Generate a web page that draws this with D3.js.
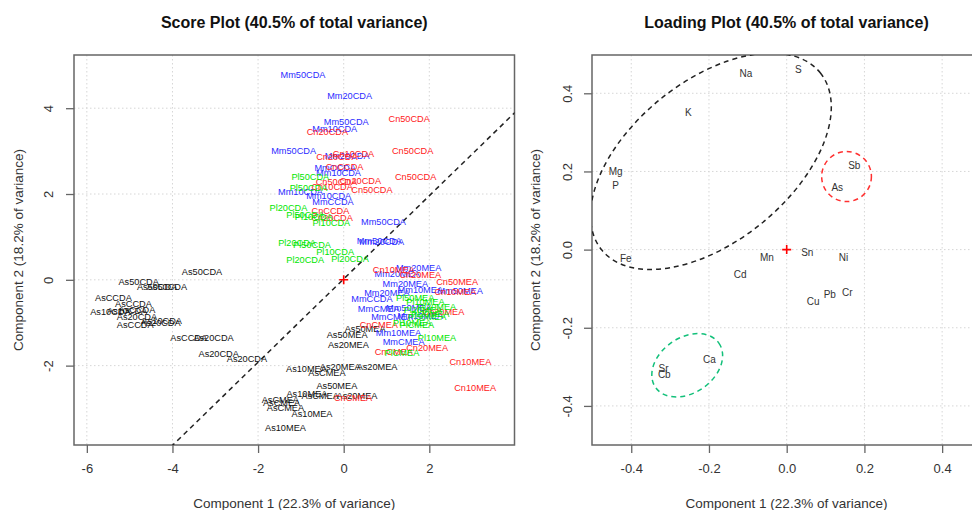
<!DOCTYPE html>
<html>
<head>
<meta charset="utf-8">
<script src="https://cdn.jsdelivr.net/npm/d3@7"></script>
<style>
  body { margin: 0; background: #fff; }
  svg { font-family: "Liberation Sans", Arial, sans-serif; }
  .grid line { stroke: #d6d6d6; stroke-dasharray: 1.5,2.5; }
  .tick-lbl { font-size: 13px; fill: #333; }
  .ax-title { font-size: 13.5px; fill: #333; }
  .main-title { font-size: 16px; font-weight: bold; fill: #111; }
</style>
</head>
<body>
<svg id="chart" width="972" height="510"></svg>
<script>
// Score plot: sample labels and coordinates (component 1, component 2)
const scoreLabels = [
  'As50CDA','As50CDA','As50CDA','As50CDA','AsCCDA','AsCCDA','As10CDA','As10CDA','AsCCDA','As20CDA',
  'As10CDA','AsCCDA','As20CDA','AsCCDA','As20CDA','As20CDA','As20CDA',
  'As50MEA','As50MEA','As20MEA','As10MEA','As20MEA','As20MEA','AsCMEA','As50MEA','As10MEA',
  'AsCMEA','As20MEA','AsCMEA','AsCMEA','AsCMEA','As10MEA','As10MEA',
  'Mm50CDA','Mm20CDA','Mm50CDA','Mm10CDA','Mm50CDA','Mm20CDA','MmCCDA','Mm10CDA','Mm10CDA','Mm10CDA',
  'MmCCDA','Mm50CDA','Mm20CDA','Mm50CDA',
  'Mm20MEA','Mm20MEA','Mm20MEA','Mm50MEA','Mm20MEA','Mm10MEA','MmCCDA','MmCMEA','Mm50MEA','Mm10MEA',
  'MmCMEA','Mm10MEA','MmCMEA',
  'Cn50CDA','Cn20CDA','Cn20CDA','Cn10CDA','Cn50CDA','CnCCDA','Cn50CDA','Cn20CDA','Cn50CDA','Cn10CDA',
  'Cn50CDA','CnCCDA','Cn20CDA',
  'Cn10MEA','Cn20MEA','Cn50MEA','Cn10MEA','Cn20MEA','CnCMEA','Cn20MEA','CnCMEA','Cn10MEA','Cn10MEA','CnCMEA',
  'Pl50CDA','Pl50CDA','Pl20CDA','Pl50CDA','Pl10CDA','Pl10CDA','Pl20CDA','Pl50CDA','Pl10CDA','Pl20CDA','Pl20CDA',
  'Pl50MEA','Pl10MEA','Pl20MEA','Pl50MEA','Pl20MEA','PlCMEA','Pl10MEA','PlCMEA','Pl10MEA','Pl20MEA'
];
const scoreX = [
  -3.31,-4.79,-4.36,-4.13,-5.38,-4.91,-5.45,-5.06,-4.83,-4.83,
  -4.25,-4.87,-4.28,-3.62,-3.04,-2.92,-2.26,
  0.50,0.08,0.11,-0.87,-0.08,0.78,-0.39,-0.16,-0.86,
  -0.55,0.31,-1.48,-1.45,-1.36,-0.74,-1.36,
  -0.95,0.14,0.06,-0.21,-1.17,0.08,-0.20,-0.12,-1.01,-0.35,
  -0.25,0.93,0.89,0.83,
  1.75,1.25,1.44,2.72,1.01,1.79,0.66,0.82,1.52,1.79,
  1.13,1.28,1.40,
  1.53,-0.38,-0.16,0.23,1.61,0.02,-0.17,0.39,1.68,-0.27,
  0.66,-0.31,-0.27,
  1.17,1.79,2.65,2.61,2.33,0.82,1.95,1.17,2.96,3.07,0.22,
  -0.78,-0.82,-1.29,-0.90,-0.70,-0.29,-1.09,-0.74,-0.20,-0.90,0.15,
  1.67,1.91,2.18,1.95,2.02,1.71,2.18,1.36,1.60,1.85
];
const scoreY = [
  0.18,-0.04,-0.16,-0.16,-0.41,-0.56,-0.74,-0.72,-0.70,-0.87,
  -0.95,-1.05,-0.99,-1.34,-1.36,-1.73,-1.85,
  -1.15,-1.28,-1.52,-2.07,-2.02,-2.02,-2.16,-2.46,-2.66,
  -2.70,-2.70,-2.80,-2.86,-2.98,-3.13,-3.46,
  4.79,4.30,3.68,3.53,3.01,2.90,2.61,2.50,2.06,1.97,
  1.83,1.36,0.89,0.91,
  0.27,0.13,-0.10,-0.26,-0.30,-0.23,-0.45,-0.68,-0.65,-0.84,
  -0.86,-1.24,-1.45,
  3.75,3.44,2.87,2.94,3.01,2.63,2.29,2.31,2.39,2.17,
  2.10,1.61,1.44,
  0.23,0.12,-0.05,-0.29,-0.75,-1.05,-1.59,-1.67,-1.92,-2.52,-2.76,
  2.41,2.14,1.67,1.52,1.48,1.32,0.87,0.82,0.66,0.47,0.48,
  -0.41,-0.51,-0.62,-0.86,-0.78,-1.05,-1.36,-1.69,-1.00,-0.70
];
const groupColor = { As: '#111', Mm: '#2b2bff', Cn: '#ff2020', Pl: '#00e600' };

// Reference line on the score plot: y = a + b * x
const refIntercept = 0.02, refSlope = 0.97;

// Loading plot: variables and loadings
const loadLabels = ['Na','S','K','Mg','P','Sb','As','Fe','Mn','Sn','Ni','Cd','Cu','Pb','Cr','Ca','Sr','Cb'];
const loadX = [-0.105,0.03,-0.253,-0.44,-0.44,0.174,0.13,-0.414,-0.051,0.053,0.146,-0.12,0.068,0.111,0.156,-0.199,-0.317,-0.315];
const loadY = [0.45,0.461,0.351,0.20,0.163,0.216,0.16,-0.023,-0.019,-0.007,-0.019,-0.064,-0.134,-0.114,-0.111,-0.281,-0.304,-0.319];

// Cluster ellipses on the loading plot (centre, semi-axes, tilt in degrees)
const ellCx = [-0.195, 0.154, -0.256];
const ellCy = [0.226, 0.187, -0.296];
const ellRx = [0.362, 0.064, 0.0995];
const ellRy = [0.205, 0.064, 0.0707];
const ellTilt = [39, 0, 35];
const ellColor = ['#222', '#ff3030', '#12c07a'];

const scoreTicksX = [-6, -4, -2, 0, 2];
const scoreTicksY = [-2, 0, 2, 4];
const loadTicks = [-0.4, -0.2, 0.0, 0.2, 0.4];

const svg = d3.select('#chart');

// plain hyphen for negatives, like R does
const fmtInt = d => String(d);
const fmtOne = d => d.toFixed(1);

function panel(opts) {
  const { left, right, top, bottom, xDom, yDom, xTicks, yTicks, fmt, title, ylabX, ytickX } = opts;
  const x = d3.scaleLinear().domain(xDom).range([left, right]);
  const y = d3.scaleLinear().domain(yDom).range([bottom, top]);
  const g = svg.append('g');

  const clipId = 'clip' + Math.round(left);
  svg.append('clipPath').attr('id', clipId)
    .append('rect').attr('x', left).attr('y', top).attr('width', right - left).attr('height', bottom - top);

  // grid
  const grid = g.append('g').attr('class', 'grid').attr('clip-path', `url(#${clipId})`);
  grid.selectAll('.gx').data(xTicks).join('line')
    .attr('x1', d => x(d)).attr('x2', d => x(d)).attr('y1', top).attr('y2', bottom);
  grid.selectAll('.gy').data(yTicks).join('line')
    .attr('y1', d => y(d)).attr('y2', d => y(d)).attr('x1', left).attr('x2', right);

  // axes - R style, ticks outside, labels of y axis rotated
  const xa = g.append('g').attr('transform', `translate(0,${bottom})`)
    .call(d3.axisBottom(x).tickValues(xTicks).tickFormat(fmt).tickSize(8).tickPadding(11));
  const ya = g.append('g').attr('transform', `translate(${left},0)`)
    .call(d3.axisLeft(y).tickValues(yTicks).tickFormat(fmt).tickSize(8));
  [xa, ya].forEach(a => {
    a.select('.domain').remove();
    a.selectAll('line').attr('stroke', '#666').attr('stroke-width', 1.3);
    a.selectAll('text').attr('class', 'tick-lbl').style('font-family', null).style('font-size', null);
  });
  xa.selectAll('text').attr('dy', '0.71em');
  ya.selectAll('text')
    .attr('x', null)
    .attr('text-anchor', 'middle')
    .attr('transform', `translate(${ytickX - left},0) rotate(-90)`)
    .attr('dy', '0.35em');

  g.append('rect').attr('x', left).attr('y', top).attr('width', right - left).attr('height', bottom - top)
    .attr('fill', 'none').attr('stroke', '#666').attr('stroke-width', 1.5);

  svg.append('text').attr('class', 'main-title').attr('x', (left + right) / 2).attr('y', 28)
    .attr('text-anchor', 'middle').text(title);
  svg.append('text').attr('class', 'ax-title').attr('x', (left + right) / 2).attr('y', 508)
    .attr('text-anchor', 'middle').text('Component 1 (22.3% of variance)');
  svg.append('text').attr('class', 'ax-title')
    .attr('transform', `translate(${ylabX},${(top + bottom) / 2}) rotate(-90)`)
    .attr('dy', '0.35em').attr('text-anchor', 'middle').text('Component 2 (18.2% of variance)');

  const plot = g.append('g').attr('clip-path', `url(#${clipId})`);
  return { x, y, plot };
}

function plus(sel, px, py) {
  sel.append('path').attr('d', `M${px - 4.5},${py}H${px + 4.5}M${px},${py - 4.5}V${py + 4.5}`)
    .attr('stroke', '#ff0000').attr('stroke-width', 1.6);
}

// ---- Score plot ----
const sp = panel({
  left: 74, right: 514.5, top: 55, bottom: 445,
  xDom: [-6.30, 3.99], yDom: [-3.85, 5.24],
  xTicks: scoreTicksX, yTicks: scoreTicksY, fmt: fmtInt,
  title: 'Score Plot (40.5% of total variance)', ylabX: 18, ytickX: 48
});

sp.plot.append('line')
  .attr('x1', sp.x(-6.3)).attr('y1', sp.y(refIntercept + refSlope * -6.3))
  .attr('x2', sp.x(4)).attr('y2', sp.y(refIntercept + refSlope * 4))
  .attr('stroke', '#222').attr('stroke-width', 1.5).attr('stroke-dasharray', '5,4');

sp.plot.selectAll('text.lab').data(scoreLabels).join('text')
  .attr('class', 'lab')
  .attr('x', (d, i) => sp.x(scoreX[i]))
  .attr('y', (d, i) => sp.y(scoreY[i]))
  .attr('dy', '0.35em').attr('text-anchor', 'middle')
  .style('font-size', '9.2px')
  .attr('fill', d => groupColor[d.slice(0, 2)])
  .text(d => d);

plus(sp.plot, sp.x(0), sp.y(0));

// ---- Loading plot ----
const lp = panel({
  left: 592, right: 981, top: 55, bottom: 445,
  xDom: [-0.501, 0.5], yDom: [-0.50, 0.498],
  xTicks: loadTicks, yTicks: loadTicks, fmt: fmtOne,
  title: 'Loading Plot (40.5% of total variance)', ylabX: 535, ytickX: 567
});

const kx = lp.x(1) - lp.x(0), ky = lp.y(0) - lp.y(1);
lp.plot.selectAll('ellipse').data(ellCx).join('ellipse')
  .attr('cx', 0).attr('cy', 0)
  .attr('rx', (d, i) => ellRx[i] * kx).attr('ry', (d, i) => ellRy[i] * ky)
  .attr('transform', (d, i) => `translate(${lp.x(d)},${lp.y(ellCy[i])}) rotate(${-ellTilt[i]})`)
  .attr('fill', 'none').attr('stroke', (d, i) => ellColor[i])
  .attr('stroke-width', 1.5).attr('stroke-dasharray', '5,4');

lp.plot.selectAll('text.lab').data(loadLabels).join('text')
  .attr('class', 'lab')
  .attr('x', (d, i) => lp.x(loadX[i]))
  .attr('y', (d, i) => lp.y(loadY[i]))
  .attr('dy', '0.35em').attr('text-anchor', 'middle')
  .style('font-size', '10px').attr('fill', '#333')
  .text(d => d);

plus(lp.plot, lp.x(0), lp.y(0));
</script>
</body>
</html>
